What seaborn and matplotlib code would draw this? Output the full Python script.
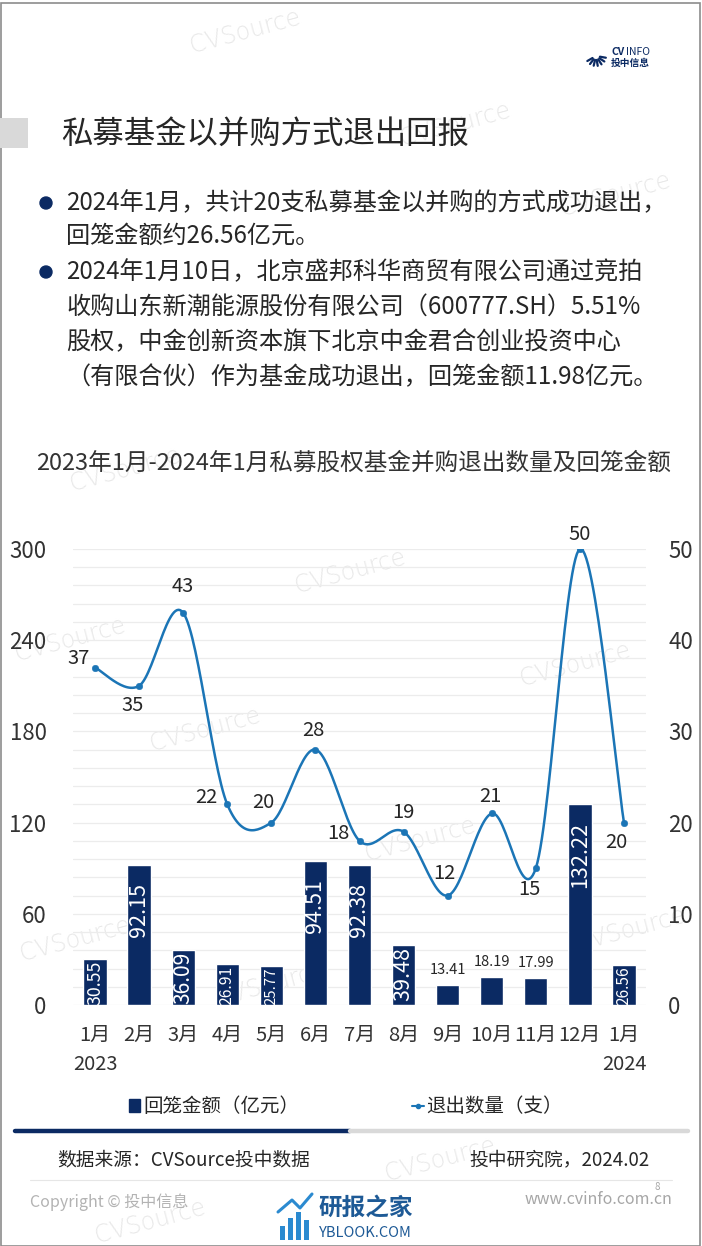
import numpy as np
import pandas as pd
import matplotlib
matplotlib.use('Agg')
import matplotlib.pyplot as plt
import seaborn as sns
from matplotlib.patches import Rectangle, Ellipse, Patch
from matplotlib.lines import Line2D
from matplotlib.ticker import MultipleLocator

# 数据
months = ['1月', '2月', '3月', '4月', '5月', '6月', '7月', '8月', '9月', '10月', '11月', '12月', '1月']
years = {0: '2023', 12: '2024'}
amount = [30.55, 92.15, 36.09, 26.91, 25.77, 94.51, 92.38, 39.48, 13.41, 18.19, 17.99, 132.22, 26.56]
count = [37, 35, 43, 22, 20, 28, 18, 19, 12, 21, 15, 50, 20]

# 折线标签偏移（像素）
count_offsets = [(-5, 9, 'right'), (-6, -20, 'center'), (0, 26, 'center'), (-10, 7, 'right'),
                 (-8, 20, 'center'), (-2, 19, 'center'), (-10, 7, 'right'), (0, 19, 'center'),
                 (-3, 22, 'center'), (-1, 17, 'center'), (-6, -21, 'center'), (0, 15, 'center'),
                 (-8, -20, 'center')]

NAVY = '#0b2a63'
BLUE = '#1b75b6'
TXT = '#262626'

sns.set_theme(style='white')
plt.rcParams['font.family'] = ['Noto Sans CJK SC', 'DejaVu Sans']

W, H = 702, 1246
fig = plt.figure(figsize=(W / 100, H / 100), dpi=100)


def px(x, y):
    return x / W, 1 - y / H


def smooth(xs, ys, n=30):
    # 平滑曲线（仅用于绘制，数据点不变）
    pts = np.column_stack([xs, ys]).astype(float)
    P = np.vstack([pts[0], pts, pts[-1]])
    out = []
    t = np.linspace(0, 1, n)[:, None]
    for i in range(len(pts) - 1):
        p0, p1, p2, p3 = P[i], P[i + 1], P[i + 2], P[i + 3]
        c1 = p1 + (p2 - p0) / 6
        c2 = p2 - (p3 - p1) / 6
        seg = (1 - t) ** 3 * p1 + 3 * (1 - t) ** 2 * t * c1 + 3 * (1 - t) * t ** 2 * c2 + t ** 3 * p2
        out.append(seg if i == 0 else seg[1:])
    return np.vstack(out)


# 页面边框
fig.add_artist(Rectangle((0.5 / W, 0.5 / H), 1 - 3 / W, 1 - 3 / H, transform=fig.transFigure,
                         fill=False, ec='#8c8c8c', lw=1.2))

# 水印
wm = [(245, 32), (455, 125), (615, 195), (125, 470), (350, 572), (575, 665), (70, 640),
      (205, 730), (420, 840), (75, 940), (630, 930), (270, 985), (440, 1160), (150, 1222)]
for x, y in wm:
    fig.text(*px(x, y), 'CVSource', color='#e8e8e8', fontsize=17, rotation=15,
             ha='center', va='center', family='DejaVu Sans', fontweight='light', zorder=-1)

# logo
for ang in np.linspace(-150, -10, 7):
    a = np.deg2rad(ang)
    x0, y0 = 596, 56
    fig.add_artist(Line2D([(x0 + 4 * np.cos(a)) / W, (x0 + 10 * np.cos(a)) / W],
                          [1 - (y0 - 4 * np.sin(a)) / H, 1 - (y0 - 10 * np.sin(a)) / H],
                          transform=fig.transFigure, color=NAVY, lw=1.6))
fig.text(*px(611, 52), 'CV', color=NAVY, fontsize=7.5, fontweight='bold', va='center')
fig.text(*px(626, 52), 'INFO', color=NAVY, fontsize=7.5, va='center')
fig.text(*px(611, 63), '投中信息', color=NAVY, fontsize=7, fontweight='bold', va='center')

# 标题
fig.add_artist(Rectangle(px(0, 148), 28 / W, 30 / H, transform=fig.transFigure, color='#d9d9d9', lw=0))
fig.text(*px(61, 134), '私募基金以并购方式退出回报', fontsize=22.6, color=TXT, va='center')

# 要点
lines = [(203, '2024年1月，共计20支私募基金以并购的方式成功退出，', True),
         (236, '回笼金额约26.56亿元。', False),
         (272, '2024年1月10日，北京盛邦科华商贸有限公司通过竞拍', True),
         (307, '收购山东新潮能源股份有限公司（600777.SH）5.51%', False),
         (342, '股权，中金创新资本旗下北京中金君合创业投资中心', False),
         (377, '（有限合伙）作为基金成功退出，回笼金额11.98亿元。', False)]
for y, s, dot in lines:
    fig.text(*px(66, y), s, fontsize=17.4, color=TXT, va='center')
    if dot:
        fig.add_artist(Ellipse(px(46, y), 12 / W, 12 / H, transform=fig.transFigure, color=NAVY))

# 图表标题
fig.text(*px(354, 463), '2023年1月-2024年1月私募股权基金并购退出数量及回笼金额',
         fontsize=17, color='#333333', ha='center', va='center')

# 主图
ax = fig.add_axes([73 / W, (H - 1005) / H, 573 / W, 456 / H])
ax.patch.set_alpha(0)
df = pd.DataFrame({'idx': range(len(months)), 'amount': amount, 'count': count})
sns.barplot(data=df, x='idx', y='amount', color=NAVY, saturation=1, width=0.53, ax=ax, zorder=2)
ax.set_xlim(-0.5, len(months) - 0.5)
ax.set_ylim(0, 300)
ax.set_yticks(range(0, 301, 60))
ax.yaxis.set_minor_locator(MultipleLocator(12))
ax.grid(axis='y', which='both', color='#ececec', lw=0.9)
ax.set_axisbelow(True)
ax.set_xticks(range(len(months)))
ax.set_xticklabels(months)
ax.set_xlabel('')
ax.set_ylabel('')
ax.tick_params(axis='y', which='both', length=0, pad=19, labelsize=16, labelcolor='#333333')
ax.tick_params(axis='x', length=0, pad=14, labelsize=14.5, labelcolor='#333333')
for sp in ax.spines.values():
    sp.set_visible(False)

for i, yr in years.items():
    ax.annotate(yr, (i, 0), xycoords=('data', 'axes fraction'), xytext=(0, -60),
                textcoords='offset pixels', ha='center', va='center', fontsize=14.5, color='#333333')

# 柱形标签
for i, v in enumerate(amount):
    if v < 20:
        ax.annotate(f'{v:.2f}', (i, v), xytext=(0, 8), textcoords='offset pixels',
                    ha='center', va='bottom', fontsize=10.5, color=TXT)
    else:
        pad = 18 if v > 60 else 2
        ax.annotate(f'{v:.2f}', (i, v), xytext=(0, -pad), textcoords='offset pixels',
                    ha='center', va='top', rotation=90, fontsize=min(15.5, v * 0.42), color='white')

# 折线
ax2 = ax.twinx()
ax2.patch.set_alpha(0)
ax2.set_ylim(0, 50)
ax2.set_yticks(range(0, 51, 10))
curve = smooth(df['idx'], df['count'])
ax2.plot(curve[:, 0], curve[:, 1], color=BLUE, lw=1.8, zorder=3)
sns.scatterplot(data=df, x='idx', y='count', color=BLUE, s=22, edgecolor=BLUE, ax=ax2, zorder=4)
ax2.set_xlim(-0.5, len(months) - 0.5)
ax2.set_xlabel('')
ax2.set_ylabel('')
ax2.grid(False)
ax2.tick_params(axis='y', length=0, pad=16, labelsize=16, labelcolor='#333333')
for sp in ax2.spines.values():
    sp.set_visible(False)
for i, v in enumerate(count):
    dx, dy, ha = count_offsets[i]
    ax2.annotate(str(v), (i, v), xytext=(dx, dy), textcoords='offset pixels',
                 ha=ha, va='center', fontsize=14.5, color=TXT)

# 图例
handles = [Patch(color=NAVY), Line2D([0], [0], color=BLUE, marker='o', markersize=3, lw=1.5)]
fig.legend(handles, ['回笼金额（亿元）', '退出数量（支）'], loc='center', bbox_to_anchor=px(346, 1107),
           ncol=2, frameon=False, fontsize=14, handlelength=0.6, handleheight=0.6,
           handletextpad=0.15, columnspacing=5.8, labelcolor=TXT)

fig.add_artist(Line2D([15 / W, 350 / W], [px(0, 1131)[1]] * 2, transform=fig.transFigure, color=NAVY, lw=3.2))
fig.add_artist(Line2D([350 / W, 688 / W], [px(0, 1131)[1]] * 2, transform=fig.transFigure, color='#d9d9d9', lw=3.2))

# 页脚
fig.text(*px(57, 1160), '数据来源：CVSource投中数据', fontsize=13.5, color=TXT, va='center')
fig.text(*px(650, 1160), '投中研究院，2024.02', fontsize=13.5, color=TXT, va='center', ha='right')
fig.add_artist(Line2D([30 / W, 672 / W], [px(0, 1180)[1]] * 2, transform=fig.transFigure, color='#e6e6e6', lw=0.8))
fig.text(*px(30, 1202), 'Copyright © 投中信息', fontsize=11.5, color='#b3b3b3', va='center')
fig.text(*px(672, 1200), 'www.cvinfo.com.cn', fontsize=11.5, color='#a6a6a6', va='center', ha='right')
fig.text(*px(657, 1187), '8', fontsize=7, color='#a6a6a6', va='center', ha='center')

# 研报之家 logo
for k, h in enumerate([14, 22, 28, 20]):
    fig.add_artist(Rectangle(px(280 + k * 8, 1240), 5 / W, h / H, transform=fig.transFigure,
                             color='#2b8ad0', lw=0))
fig.add_artist(Line2D([278 / W, 292 / W, 300 / W, 312 / W],
                      [px(0, 1212)[1], px(0, 1200)[1], px(0, 1208)[1], px(0, 1194)[1]],
                      transform=fig.transFigure, color='#2b8ad0', lw=2.2))
fig.text(*px(318, 1208), '研报之家', fontsize=17, color='#1e5a96', va='center', fontweight='bold')
fig.text(*px(319, 1233), 'YBLOOK.COM', fontsize=10.5, color='#1e5a96', va='center')

fig.savefig('out.png', dpi=100)
